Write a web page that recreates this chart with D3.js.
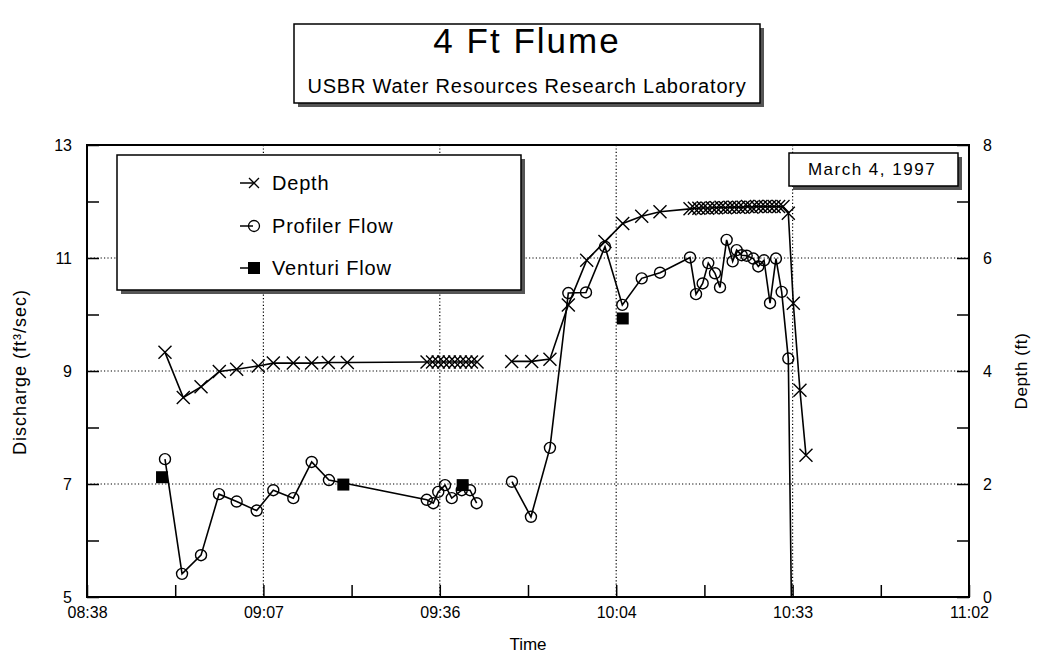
<!DOCTYPE html>
<html>
<head>
<meta charset="utf-8">
<script src="https://cdn.jsdelivr.net/npm/d3@7"></script>
<style>
  body { margin: 0; background: #fff; }
  svg { font-family: "Liberation Sans", Arial, sans-serif; }
</style>
</head>
<body>
<div id="flume-chart"></div>
<script>
// axis ticks
var xTickTimes = ['08:38:00', '09:06:48', '09:35:36', '10:04:24', '10:33:12', '11:02:00']
var xTickLabels = ['08:38', '09:07', '09:36', '10:04', '10:33', '11:02']
var xMinorTimes = ['08:52:24', '09:21:12', '09:50:00', '10:18:48', '10:47:36']
var leftTicks = [5, 7, 9, 11, 13]
var leftMinor = [6, 8, 10, 12]
var rightTicks = [0, 2, 4, 6, 8]
var rightMinor = [1, 3, 5, 7]

// depth (ft), right axis; null = gap in record
var depthTimes = ['08:50:44', '08:53:43', '08:56:37', '08:59:36', '09:02:26', '09:05:58', '09:08:25', '09:11:41',
  '09:14:41', '09:17:24', '09:20:30',
  '09:33:31', '09:34:25', '09:35:20', '09:36:14', '09:37:09', '09:38:03', '09:38:57', '09:39:52', '09:40:46', '09:41:41',
  '09:45:00',
  '09:47:20', '09:50:36', '09:53:35', '09:56:35', '09:59:35', '10:02:34', '10:05:28', '10:08:34', '10:11:33',
  '10:16:27', '10:17:10', '10:17:54', '10:18:37', '10:19:20', '10:20:04', '10:20:47', '10:21:31', '10:22:14', '10:22:58',
  '10:23:41', '10:24:24', '10:25:08', '10:25:51', '10:26:34', '10:27:18', '10:28:01', '10:28:44', '10:29:28', '10:30:11',
  '10:30:55', '10:31:38',
  '10:32:30', '10:33:19', '10:34:24', '10:35:23']
var depthValues = [4.33, 3.53, 3.72, 3.99, 4.03, 4.09, 4.14, 4.14,
  4.14, 4.15, 4.15,
  4.16, 4.16, 4.16, 4.16, 4.16, 4.16, 4.16, 4.16, 4.16, 4.16,
  null,
  4.17, 4.17, 4.21, 5.17, 5.96, 6.29, 6.61, 6.74, 6.82,
  6.87, 6.88, 6.88, 6.89, 6.88, 6.89, 6.89, 6.90, 6.89, 6.90,
  6.90, 6.90, 6.90, 6.91, 6.90, 6.91, 6.91, 6.91, 6.91, 6.91,
  6.91, 6.91,
  6.79, 5.20, 3.66, 2.51]

// profiler flow (ft3/sec), left axis
var profilerTimes = ['08:50:44', '08:53:31', '08:56:37', '08:59:33', '09:02:26', '09:05:42', '09:08:25', '09:11:41',
  '09:14:41', '09:17:30',
  '09:33:28', '09:34:32', '09:35:21', '09:36:27', '09:37:33', '09:39:11', '09:40:32', '09:41:37',
  '09:45:00',
  '09:47:23', '09:50:29', '09:53:35', '09:56:35', '09:59:28', '10:02:34', '10:05:24', '10:08:34', '10:11:33',
  '10:16:27', '10:17:26', '10:18:31', '10:19:26', '10:20:32', '10:21:21', '10:22:26', '10:23:25', '10:24:04',
  '10:24:53', '10:25:42', '10:26:47', '10:27:36', '10:28:32', '10:29:31', '10:30:29', '10:31:25', '10:32:30',
  '10:33:35']
var profilerValues = [7.44, 5.41, 5.74, 6.82, 6.69, 6.53, 6.89, 6.75,
  7.39, 7.07,
  6.72, 6.66, 6.86, 6.98, 6.75, 6.89, 6.89, 6.66,
  null,
  7.04, 6.42, 7.64, 10.38, 10.39, 11.20, 10.17, 10.64, 10.74,
  11.01, 10.36, 10.55, 10.91, 10.73, 10.48, 11.32, 10.94, 11.14,
  11.05, 11.04, 10.99, 10.85, 10.96, 10.20, 10.99, 10.40, 9.22,
  0]

// venturi flow (ft3/sec), left axis
var venturiTimes = ['08:50:15', '09:19:51', '09:39:20', '10:05:28']
var venturiValues = [7.12, 6.99, 6.98, 9.93]

var legendNames = ['Depth', 'Profiler Flow', 'Venturi Flow']

// layout
var margin = { top: 145, right: 70, bottom: 72, left: 87 }
var width = 1039, height = 669
var plotW = width - margin.left - margin.right
var plotH = height - margin.top - margin.bottom

var parseTime = d3.timeParse('%H:%M:%S')

var svg = d3.select('#flume-chart')
  .append('svg')
  .attr('width', width)
  .attr('height', height)

var chart = svg.append('g')
  .attr('transform', 'translate(' + margin.left + ',' + margin.top + ')')

var x = d3.scaleTime()
  .domain([parseTime(xTickTimes[0]), parseTime(xTickTimes[xTickTimes.length - 1])])
  .range([0, plotW])
var yLeft = d3.scaleLinear().domain([5, 13]).range([plotH, 0])
var yRight = d3.scaleLinear().domain([0, 8]).range([plotH, 0])

// dotted grid at interior major ticks
chart.selectAll('.vgrid')
  .data(xTickTimes.slice(1, -1))
  .enter()
  .append('line')
  .attr('x1', d => x(parseTime(d))).attr('x2', d => x(parseTime(d)))
  .attr('y1', 0).attr('y2', plotH)
  .attr('stroke', '#000').attr('stroke-width', 1.2).attr('stroke-dasharray', '1.2,2.2')
chart.selectAll('.hgrid')
  .data(leftTicks.slice(1, -1))
  .enter()
  .append('line')
  .attr('x1', 0).attr('x2', plotW)
  .attr('y1', d => yLeft(d)).attr('y2', d => yLeft(d))
  .attr('stroke', '#000').attr('stroke-width', 1.2).attr('stroke-dasharray', '1.2,2.2')

// axes with inward ticks
function styleAxis(g) {
  g.select('.domain').remove()
  g.selectAll('.tick line').attr('stroke', '#000').attr('stroke-width', 1.5)
  g.selectAll('.tick text').attr('fill', '#000').style('font-size', '16px')
}
var tick = 12

chart.append('g')
  .attr('transform', 'translate(0,' + plotH + ')')
  .call(d3.axisBottom(x).tickValues(xTickTimes.map(parseTime)).tickSize(-tick).tickPadding(10)
    .tickFormat((d, i) => xTickLabels[i]))
  .call(styleAxis)
chart.append('g')
  .attr('transform', 'translate(0,' + plotH + ')')
  .call(d3.axisBottom(x).tickValues(xMinorTimes.map(parseTime)).tickSize(-tick).tickFormat(''))
  .call(styleAxis)

chart.append('g')
  .call(d3.axisLeft(yLeft).tickValues(leftTicks).tickSize(-tick).tickPadding(15).tickFormat(d3.format('d')))
  .call(styleAxis)
chart.append('g')
  .call(d3.axisLeft(yLeft).tickValues(leftMinor).tickSize(-tick).tickFormat(''))
  .call(styleAxis)

chart.append('g')
  .attr('transform', 'translate(' + plotW + ',0)')
  .call(d3.axisRight(yRight).tickValues(rightTicks).tickSize(-tick).tickPadding(14).tickFormat(d3.format('d')))
  .call(styleAxis)
chart.append('g')
  .attr('transform', 'translate(' + plotW + ',0)')
  .call(d3.axisRight(yRight).tickValues(rightMinor).tickSize(-tick).tickFormat(''))
  .call(styleAxis)

// clip for series
chart.append('clipPath').attr('id', 'plot-clip')
  .append('rect').attr('x', 0).attr('y', 0).attr('width', plotW).attr('height', plotH)

var plot = chart.append('g').attr('clip-path', 'url(#plot-clip)')

var depthData = depthTimes.map((t, i) => ({ t: parseTime(t), v: depthValues[i] }))
var profilerData = profilerTimes.map((t, i) => ({ t: parseTime(t), v: profilerValues[i] }))
var venturiData = venturiTimes.map((t, i) => ({ t: parseTime(t), v: venturiValues[i] }))

var depthLine = d3.line().defined(d => d.v != null).x(d => x(d.t)).y(d => yRight(d.v))
var profilerLine = d3.line().defined(d => d.v != null).x(d => x(d.t)).y(d => yLeft(d.v))

plot.append('path').datum(profilerData)
  .attr('d', profilerLine).attr('fill', 'none').attr('stroke', '#000').attr('stroke-width', 1.6)
plot.append('path').datum(depthData)
  .attr('d', depthLine).attr('fill', 'none').attr('stroke', '#000').attr('stroke-width', 1.6)

var xMark = 'M-6.5,-6.5L6.5,6.5M-6.5,6.5L6.5,-6.5'

plot.selectAll('.depth-pt')
  .data(depthData.filter(d => d.v != null))
  .enter()
  .append('path')
  .attr('transform', d => 'translate(' + x(d.t) + ',' + yRight(d.v) + ')')
  .attr('d', xMark).attr('stroke', '#000').attr('stroke-width', 1.4).attr('fill', 'none')

plot.selectAll('.prof-pt')
  .data(profilerData.filter(d => d.v != null && d.v >= 5))
  .enter()
  .append('circle')
  .attr('cx', d => x(d.t)).attr('cy', d => yLeft(d.v)).attr('r', 5.5)
  .attr('fill', 'none').attr('stroke', '#000').attr('stroke-width', 1.4)

plot.selectAll('.vent-pt')
  .data(venturiData)
  .enter()
  .append('rect')
  .attr('x', d => x(d.t) - 6).attr('y', d => yLeft(d.v) - 6)
  .attr('width', 12).attr('height', 12).attr('fill', '#000')

// frame
chart.append('rect')
  .attr('width', plotW).attr('height', plotH)
  .attr('fill', 'none').attr('stroke', '#000').attr('stroke-width', 2)

// boxed text with drop shadow
function shadowBox(x0, y0, w, h, off) {
  svg.append('rect').attr('x', x0 + off).attr('y', y0 + off).attr('width', w).attr('height', h).attr('fill', '#555')
  svg.append('rect').attr('x', x0).attr('y', y0).attr('width', w).attr('height', h)
    .attr('fill', '#fff').attr('stroke', '#000').attr('stroke-width', 1.5)
}

// title
shadowBox(294, 24, 466, 79, 4)
svg.append('text').attr('x', 527).attr('y', 53).attr('text-anchor', 'middle')
  .style('font-size', '35px').style('letter-spacing', '2px').text('4 Ft Flume')
svg.append('text').attr('x', 527).attr('y', 93).attr('text-anchor', 'middle')
  .style('font-size', '20px').style('letter-spacing', '0.8px').text('USBR Water Resources Research Laboratory')

// date box
shadowBox(789, 153, 169, 33, 4)
svg.append('text').attr('x', 872).attr('y', 175).attr('text-anchor', 'middle')
  .style('font-size', '17px').style('letter-spacing', '1.5px').text('March 4, 1997')

// legend
shadowBox(117, 155, 404, 135, 4)
var legendRows = [183, 226, 268]
legendRows.forEach((ly, i) => {
  svg.append('line').attr('x1', 240).attr('x2', 253).attr('y1', ly).attr('y2', ly)
    .attr('stroke', '#000').attr('stroke-width', 1.5)
  if (i === 0) {
    svg.append('path').attr('transform', 'translate(254,' + ly + ')')
      .attr('d', 'M-5,-5L5,5M-5,5L5,-5').attr('stroke', '#000').attr('stroke-width', 1.3)
  } else if (i === 1) {
    svg.append('circle').attr('cx', 254).attr('cy', ly).attr('r', 5.5)
      .attr('fill', 'none').attr('stroke', '#000').attr('stroke-width', 1.3)
  } else {
    svg.append('rect').attr('x', 248).attr('y', ly - 6).attr('width', 12).attr('height', 12).attr('fill', '#000')
  }
  svg.append('text').attr('x', 272).attr('y', ly + 7)
    .style('font-size', '20px').style('letter-spacing', '0.8px').text(legendNames[i])
})

// axis titles
svg.append('text').attr('x', 528).attr('y', 650).attr('text-anchor', 'middle')
  .style('font-size', '17px').text('Time')
svg.append('text').attr('transform', 'translate(26,372) rotate(-90)').attr('text-anchor', 'middle')
  .style('font-size', '18px').style('letter-spacing', '1px').text('Discharge (ft\u00b3/sec)')
svg.append('text').attr('transform', 'translate(1027,371) rotate(-90)').attr('text-anchor', 'middle')
  .style('font-size', '17px').style('letter-spacing', '0.6px').text('Depth (ft)')
</script>
</body>
</html>
